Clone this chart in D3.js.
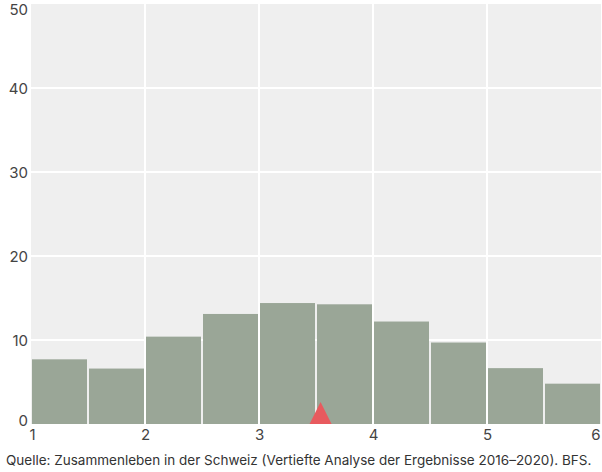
<!DOCTYPE html>
<html><head><meta charset="utf-8">
<script src="https://cdn.jsdelivr.net/npm/d3@7"></script>
<style>body{margin:0;background:#fff;}svg{display:block;}</style>
</head><body>
<svg id="c" width="602" height="472"></svg>
<script>
const binStarts = [1, 1.5, 2, 2.5, 3, 3.5, 4, 4.5, 5, 5.5];
const binWidth = 0.5;
const values = [7.7, 6.6, 10.4, 13.1, 14.4, 14.25, 12.2, 9.7, 6.65, 4.8];
const marker = 3.54;
const xTicks = [1, 2, 3, 4, 5, 6];
const yTicks = [0, 10, 20, 30, 40, 50];
const caption = "Quelle: Zusammenleben in der Schweiz (Vertiefte Analyse der Ergebnisse 2016–2020). BFS.";

const svg = d3.select("#c");
const m = {l: 31, r: 601, t: 4, b: 424};
const x = d3.scaleLinear().domain([1, 6]).range([m.l, m.r]);
const y = d3.scaleLinear().domain([0, 50]).range([m.b, m.t]);
const font = "Inter, 'Liberation Sans', sans-serif";

svg.append("rect").attr("x", m.l).attr("y", m.t).attr("width", m.r - m.l).attr("height", m.b - m.t).attr("fill", "#efefef");

// grid
svg.append("g").selectAll("line").data(yTicks.filter(d => d > 0 && d < 50)).join("line")
  .attr("x1", m.l).attr("x2", m.r).attr("y1", d => y(d)).attr("y2", d => y(d))
  .attr("stroke", "#fff").attr("stroke-width", 2);
svg.append("g").selectAll("line").data(xTicks.filter(d => d > 1 && d < 6)).join("line")
  .attr("y1", m.t).attr("y2", m.b).attr("x1", d => x(d)).attr("x2", d => x(d))
  .attr("stroke", "#fff").attr("stroke-width", 2);

// bars
svg.append("g").selectAll("rect").data(values).join("rect")
  .attr("x", (d, i) => x(binStarts[i]) + 1)
  .attr("width", (d, i) => x(binStarts[i] + binWidth) - x(binStarts[i]) - 2)
  .attr("y", d => y(d))
  .attr("height", d => y(0) - y(d))
  .attr("fill", "#9aa697");

// marker triangle
const tx = x(marker), by = y(0), th = 22, tw = 22;
svg.append("path")
  .attr("d", `M${tx - tw / 2},${by}L${tx},${by - th}L${tx + tw / 2},${by}Z`)
  .attr("fill", "#e85a5e");

// y axis labels
const yAxis = d3.axisLeft(y).tickValues(yTicks).tickSize(0).tickPadding(0);
const gy = svg.append("g").attr("transform", `translate(28,0)`).call(yAxis);
gy.select(".domain").remove();
gy.selectAll("text").attr("font-family", font).attr("font-size", 15).attr("fill", "#444").attr("dy", "0.36em");
gy.selectAll(".tick").attr("transform", d => `translate(0,${d === 0 ? y(d) - 3 : d === 50 ? y(d) + 6 : y(d) + 1})`);

// x axis labels
const xAxis = d3.axisBottom(x).tickValues(xTicks).tickSize(0).tickPadding(0).tickFormat(d3.format("d"));
const gx = svg.append("g").attr("transform", `translate(0,${m.b + 5})`).call(xAxis);
gx.select(".domain").remove();
gx.selectAll("text").attr("font-family", font).attr("font-size", 15).attr("fill", "#444");
gx.selectAll(".tick").filter(d => d === 6).select("text").attr("text-anchor", "end").attr("x", -1);
gx.selectAll(".tick").filter(d => d === 1).select("text").attr("text-anchor", "start").attr("x", -2);

const cap = svg.append("text").attr("x", 6).attr("y", 465).attr("font-family", font)
  .attr("fill", "#333").text(caption);
let fs = 15.5;
cap.attr("font-size", fs);
while (cap.node().getComputedTextLength() > 590 && fs > 9) { fs -= 0.25; cap.attr("font-size", fs); }
</script>
</body></html>
